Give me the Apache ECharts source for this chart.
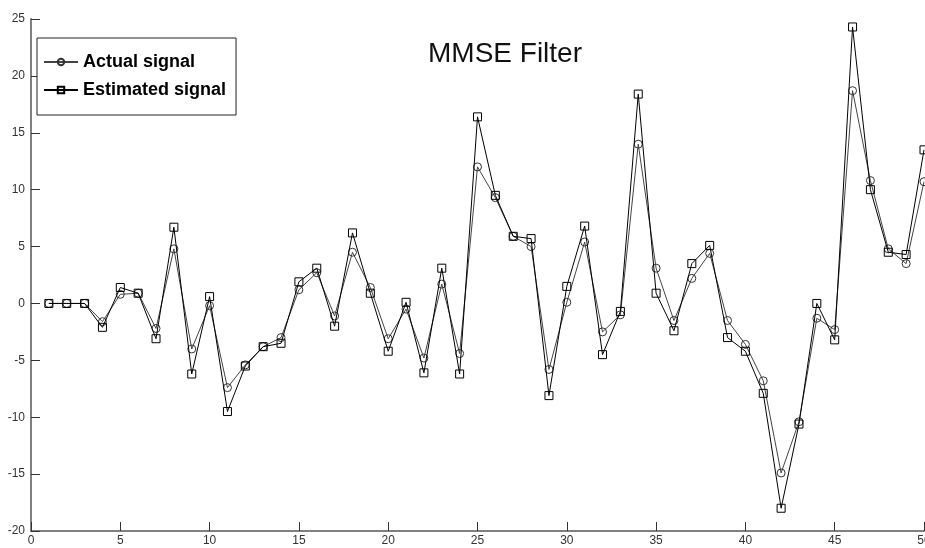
<!DOCTYPE html>
<html>
<head>
<meta charset="utf-8">
<script src="https://cdn.jsdelivr.net/npm/echarts@6/dist/echarts.min.js"></script>
<style>
    html, body { margin: 0; padding: 0; background: #fff; }
    #chart { width: 925px; height: 548px; }
</style>
</head>
<body>
<div id="chart"></div>
<script>
// sample index 1..50
const samples = [];
for (let i = 1; i <= 50; i++) samples.push(i);

const actualSignal = [
    0, 0, 0, -1.6, 0.8, 0.9, -2.2, 4.8, -4.0, -0.2,
    -7.4, -5.4, -3.8, -3.0, 1.2, 2.7, -1.1, 4.5, 1.4, -3.1,
    -0.5, -4.8, 1.7, -4.4, 12.0, 9.3, 5.9, 5.0, -5.8, 0.1,
    5.4, -2.5, -1.0, 14.0, 3.1, -1.5, 2.2, 4.4, -1.5, -3.6,
    -6.8, -14.9, -10.4, -1.3, -2.3, 18.7, 10.8, 4.8, 3.5, 10.7
];
const estimatedSignal = [
    0, 0, 0, -2.1, 1.4, 0.9, -3.1, 6.7, -6.2, 0.6,
    -9.5, -5.5, -3.8, -3.5, 1.9, 3.1, -2.0, 6.2, 0.9, -4.2,
    0.1, -6.1, 3.1, -6.2, 16.4, 9.5, 5.9, 5.7, -8.1, 1.5,
    6.8, -4.5, -0.7, 18.4, 0.9, -2.4, 3.5, 5.1, -3.0, -4.2,
    -7.9, -18.0, -10.6, 0.0, -3.2, 24.3, 10.0, 4.5, 4.3, 13.5
];
const xTicks = [0, 50, 5];   // min, max, step
const yTicks = [-20, 25, 5];

const pairs = (vals) => samples.map((x, i) => [x, vals[i]]);

let chart = echarts.init(document.getElementById('chart'), null, { renderer: 'canvas' });

const axisStyle = {
    axisLine: { show: true, onZero: false, lineStyle: { color: '#808080', width: 2 } },
    axisTick: { show: true, inside: true, length: 9, lineStyle: { color: '#333', width: 1 } },
    splitLine: { show: false },
};

const option = {
    backgroundColor: '#fff',
    animation: false,
    title: {
        text: 'MMSE Filter',
        left: 428,
        top: 40,
        padding: 0,
        textStyle: { fontFamily: 'Liberation Sans, Arial', fontSize: 28, fontWeight: 'normal', color: '#111' }
    },
    legend: {
        orient: 'vertical',
        left: 37,
        top: 38,
        padding: [10, 10, 11, 6],
        itemGap: 0,
        itemWidth: 34,
        itemHeight: 8,
        borderColor: '#222',
        borderWidth: 1,
        backgroundColor: '#fff',
        textStyle: { fontFamily: 'Liberation Sans, Arial', fontSize: 18, fontWeight: 'bold', color: '#000', lineHeight: 28 },
        data: ['Actual signal', 'Estimated signal']
    },
    grid: { left: 31, right: 1, top: 19, bottom: 17, containLabel: false, outerBoundsMode: 'none' },
    xAxis: Object.assign({
        type: 'value',
        min: xTicks[0], max: xTicks[1], interval: xTicks[2],
        axisLabel: { color: '#333', fontFamily: 'Liberation Sans, Arial', fontSize: 12, margin: 4 },
    }, axisStyle),
    yAxis: Object.assign({
        type: 'value',
        min: yTicks[0], max: yTicks[1], interval: yTicks[2],
        axisLabel: { color: '#333', fontFamily: 'Liberation Sans, Arial', fontSize: 12, margin: 6 },
    }, axisStyle),
    series: [
        {
            name: 'Actual signal',
            type: 'line',
            data: pairs(actualSignal),
            symbol: 'circle',
            symbolSize: 8,
            showAllSymbol: true,
            lineStyle: { color: '#444', width: 1 },
            itemStyle: { color: 'rgba(255,255,255,0)', borderColor: '#333', borderWidth: 1 },
            z: 2
        },
        {
            name: 'Estimated signal',
            type: 'line',
            data: pairs(estimatedSignal),
            symbol: 'rect',
            symbolSize: 8,
            showAllSymbol: true,
            lineStyle: { color: '#000', width: 1 },
            itemStyle: { color: 'rgba(255,255,255,0)', borderColor: '#000', borderWidth: 1 },
            z: 3
        }
    ]
};

chart.setOption(option);
</script>
</body>
</html>
